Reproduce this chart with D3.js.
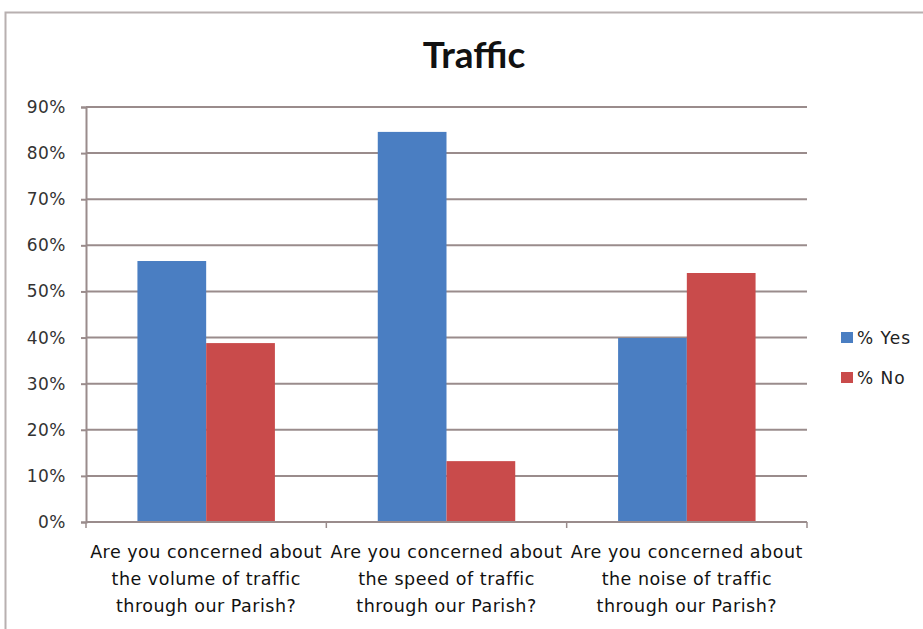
<!DOCTYPE html>
<html><head><meta charset="utf-8">
<script src="https://cdn.jsdelivr.net/npm/d3@7"></script>
<style>body{margin:0;background:#fff;} svg{display:block;}</style>
</head><body>
<svg id="chart" width="923" height="629"></svg>
<script>
const categories = [
  ["Are you concerned about","the volume of traffic","through our Parish?"],
  ["Are you concerned about","the speed of traffic","through our Parish?"],
  ["Are you concerned about","the noise of traffic","through our Parish?"]
];
const seriesNames = ["% Yes", "% No"];
const yesValues = [0.566, 0.846, 0.399];
const noValues = [0.388, 0.132, 0.540];
const yTicks = [0,0.1,0.2,0.3,0.4,0.5,0.6,0.7,0.8,0.9];
const colors = ["#4a7ec2", "#c94b4b"];

const svg = d3.select("#chart");
const font = "Lato, 'Open Sans', sans-serif";
const font2 = "'DejaVu Sans', sans-serif";
const W = 923, H = 629;

// border
svg.append("rect").attr("x",5.5).attr("y",12.5).attr("width",W+10).attr("height",H+10)
  .attr("fill","none").attr("stroke","#b8b0b0").attr("stroke-width",2);

const x0 = d3.scaleBand().domain(d3.range(categories.length)).range([86,807]).padding(0);
const bw = x0.bandwidth();
const x1 = d3.scaleBand().domain(seriesNames).range([bw*0.214, bw*0.786]).padding(0);
const y = d3.scaleLinear().domain([0,0.9]).range([522,107]);

// gridlines
svg.append("g").selectAll("line").data(yTicks.slice(1)).join("line")
  .attr("x1",86).attr("x2",807).attr("y1",d=>y(d)).attr("y2",d=>y(d))
  .attr("stroke","#9a8c8c").attr("stroke-width",2);

// bars
const data = categories.map((c,i)=>({i, vals:[yesValues[i], noValues[i]]}));
const g = svg.append("g").selectAll("g").data(data).join("g")
  .attr("transform", d=>`translate(${x0(d.i)},0)`);
g.selectAll("rect").data(d=>d.vals.map((v,k)=>({k,v}))).join("rect")
  .attr("x", d=>x1(seriesNames[d.k])).attr("width", x1.bandwidth())
  .attr("y", d=>y(d.v)).attr("height", d=>y(0)-y(d.v))
  .attr("fill", d=>colors[d.k]);

// y axis
const yAxis = d3.axisLeft(y).tickValues(yTicks).tickFormat(d3.format(".0%")).tickSize(5).tickPadding(15);
const ya = svg.append("g").attr("transform","translate(86,0)").call(yAxis);
ya.select(".domain").attr("stroke","#9a8c8c").attr("stroke-width",2);
ya.selectAll(".tick line").attr("stroke","#9a8c8c").attr("stroke-width",2);
ya.selectAll(".tick text").attr("font-family",font2).attr("font-size",17)
  .attr("letter-spacing",0.5).attr("fill","#333");

// x axis
const xa = svg.append("g").attr("transform","translate(0,522)");
xa.append("line").attr("x1",86).attr("x2",807).attr("stroke","#9a8c8c").attr("stroke-width",2);
xa.selectAll("line.t").data(d3.range(categories.length+1)).join("line").attr("class","t")
  .attr("x1",d=>86+d*bw).attr("x2",d=>86+d*bw).attr("y1",0).attr("y2",6)
  .attr("stroke","#9a8c8c").attr("stroke-width",1.5);
const lbl = xa.selectAll("text").data(categories).join("text")
  .attr("x",(d,i)=>x0(i)+bw/2).attr("y",36)
  .attr("text-anchor","middle").attr("font-family",font2).attr("font-size",17.5)
  .attr("letter-spacing",0.5).attr("fill","#111");
lbl.selectAll("tspan").data(d=>d).join("tspan")
  .attr("x",function(){return this.parentNode.getAttribute("x");})
  .attr("dy",(d,i)=>i===0?0:27).text(d=>d);

// title
svg.append("text").attr("x",474).attr("y",68).attr("text-anchor","middle")
  .attr("font-family",font).attr("font-weight","bold").attr("font-size",37).attr("fill","#111").text("Traffic");

// legend
const lg = svg.append("g").selectAll("g").data(seriesNames).join("g")
  .attr("transform",(d,i)=>`translate(841,${338+i*40})`);
lg.append("rect").attr("x",0).attr("y",-6).attr("width",12).attr("height",11).attr("fill",(d,i)=>colors[i]);
lg.append("text").attr("x",16).attr("y",6).attr("font-family",font2).attr("font-size",17)
  .attr("letter-spacing",1).attr("fill","#222").text(d=>d);
</script>
</body></html>
